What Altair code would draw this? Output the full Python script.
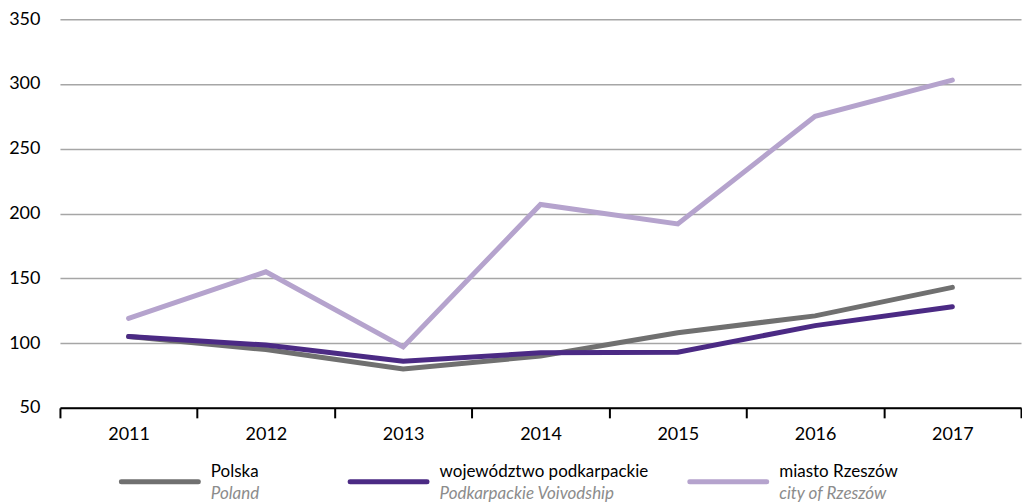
import altair as alt
import pandas as pd

years = ["2011", "2012", "2013", "2014", "2015", "2016", "2017"]
polska = [105, 95, 80, 90, 108, 121, 143]
podkarpackie = [105, 98.5, 86, 92.5, 93, 113.5, 128]
rzeszow = [119, 155, 97, 207, 192, 275, 303]
series_pl = ["Polska", "województwo podkarpackie", "miasto Rzeszów"]
series_en = ["Poland", "Podkarpackie Voivodship", "city of Rzeszów"]
y_ticks = [50, 100, 150, 200, 250, 300, 350]

colors = ["#707070", "#4b2a84", "#b5a3cd"]
FONT = "Lato"

rows = []
for name, vals in zip(series_pl, [polska, podkarpackie, rzeszow]):
    for yr, v in zip(years, vals):
        rows.append({"year": yr, "value": v, "series": name})
df = pd.DataFrame(rows)

color_scale = alt.Scale(domain=series_pl, range=colors)

lines = alt.Chart(df).mark_line(strokeWidth=5, strokeCap="round").encode(
    x=alt.X(
        "year:O",
        bandPosition=0.5,
        scale=alt.Scale(type="band", paddingInner=0, paddingOuter=0),
        axis=alt.Axis(
            title=None, labelAngle=0, tickBand="extent", domainColor="black",
            domainWidth=2, tickColor="black", tickWidth=2, tickSize=10,
            labelFontSize=18, labelFont=FONT, labelColor="black", labelPadding=8,
            grid=False,
        ),
    ),
    y=alt.Y(
        "value:Q",
        scale=alt.Scale(domain=[50, 350], nice=False, zero=False),
        axis=alt.Axis(
            title=None, values=y_ticks, domain=False, ticks=False, labelPadding=20,
            gridColor="#a6a6a6", gridWidth=1.5, labelFontSize=18, labelFont=FONT,
            labelColor="black",
        ),
    ),
    color=alt.Color("series:N", scale=color_scale, legend=None),
    detail="series:N",
).properties(width=962, height=389)

leg = pd.DataFrame({"pl": series_pl, "en": series_en})
lx = alt.X("idx:Q", scale=alt.Scale(domain=[1, 2, 3], range=[100, 329, 669]), axis=None)

base_leg = alt.Chart(leg).transform_window(idx="row_number()")

sym = base_leg.mark_point(
    shape="stroke", size=77 * 77, strokeWidth=5, strokeCap="round",
    filled=False, opacity=1,
).encode(x=lx, color=alt.Color("pl:N", scale=color_scale, legend=None))

t1 = base_leg.mark_text(
    align="left", baseline="middle", dx=51, dy=-10, fontSize=17, font=FONT, color="black"
).encode(x=lx, text="pl:N")

t2 = base_leg.mark_text(
    align="left", baseline="middle", dx=51, dy=12, fontSize=17, font=FONT,
    fontStyle="italic", color="#8c8c8c",
).encode(x=lx, text="en:N")

legend = alt.layer(sym, t1, t2).properties(width=900, height=40)

chart = alt.vconcat(lines, legend, spacing=18).properties(
    padding={"left": 0, "top": 2, "right": 0, "bottom": 0}
).configure_view(stroke=None)

chart.save("out.html", embed_options={"renderer": "svg", "actions": False})
